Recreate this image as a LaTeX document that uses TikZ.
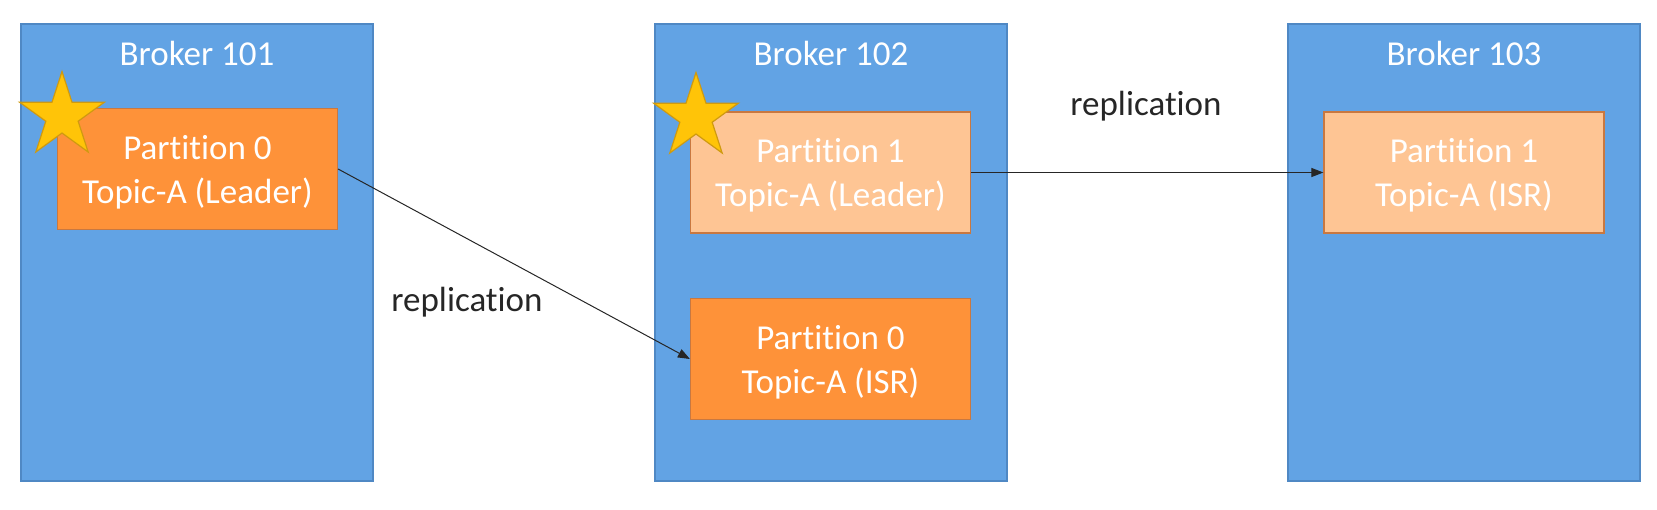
\documentclass[tikz,border=0pt]{standalone}
\usepackage{fontspec}
\setmainfont{Carlito}[Ligatures=NoCommon]
\usetikzlibrary{shapes.geometric,arrows.meta}
\definecolor{brokerblue}{HTML}{62A3E4}
\definecolor{brokeredge}{HTML}{4F88C4}
\definecolor{leaderorange}{HTML}{FE9239}
\definecolor{paleorange}{HTML}{FEC594}
\definecolor{partedge}{HTML}{C97840}
\definecolor{stargold}{HTML}{FFC408}
\definecolor{staredge}{HTML}{CF9A10}
\tikzstyle{broker} = [draw=brokeredge, line width=1.2pt, fill=brokerblue, minimum width=352pt, minimum height=457pt, inner sep=0pt]
\tikzstyle{title} = [text=white, anchor=base, font=\fontsize{35}{44}\selectfont]

\begin{document}
\begin{tikzpicture}[x=1pt,y=-1pt]
\tikzstyle{part} = [draw=partedge, line width=1.2pt, minimum width=280pt, minimum height=121pt, inner sep=0pt, text=white, align=center, text depth=0pt, font=\fontsize{35}{44}\selectfont]
\tikzstyle{leader} = [star, star points=5, star point ratio=2.618, minimum size=89pt, inner sep=0pt, fill=stargold, draw=staredge, line width=1.2pt]
\tikzstyle{rep} = [-{Triangle[length=12pt,width=9pt]}, line width=1pt, draw=black!85]
\useasboundingbox (0,0) rectangle (1657,509);
% brokers
\node[broker] at (197,252.5) (broker1) {};
\node[broker] at (831,252.5) (broker2) {};
\node[broker] at (1464,252.5) (broker3) {};
\node[title] at (197,65) (title1) {Broker 101};
\node[title] at (831,65) (title2) {Broker 102};
\node[title] at (1464,65) (title3) {Broker 103};
% partitions
\node[part, fill=leaderorange] at (197.5,169) (part1) {Partition 0\\Topic-A (Leader)};
\node[part, fill=paleorange] at (830.5,172.5) (part2) {Partition 1\\Topic-A (Leader)};
\node[part, fill=leaderorange] at (830.5,359) (part3) {Partition 0\\Topic-A (ISR)};
\node[part, fill=paleorange] at (1464,172.5) (part4) {Partition 1\\Topic-A (ISR)};
\node[leader] at (62,116) (star1) {};
\node[leader] at (696,117) (star2) {};
% replication
\draw[rep] (part1.east) -- (part3.west);
\draw[rep] (part2.east) -- (part4.west);
\node[title, text=black!85] at (467,311) (rep1) {replication};
\node[title, text=black!85] at (1146,115) (rep2) {replication};
\end{tikzpicture}
\end{document}
